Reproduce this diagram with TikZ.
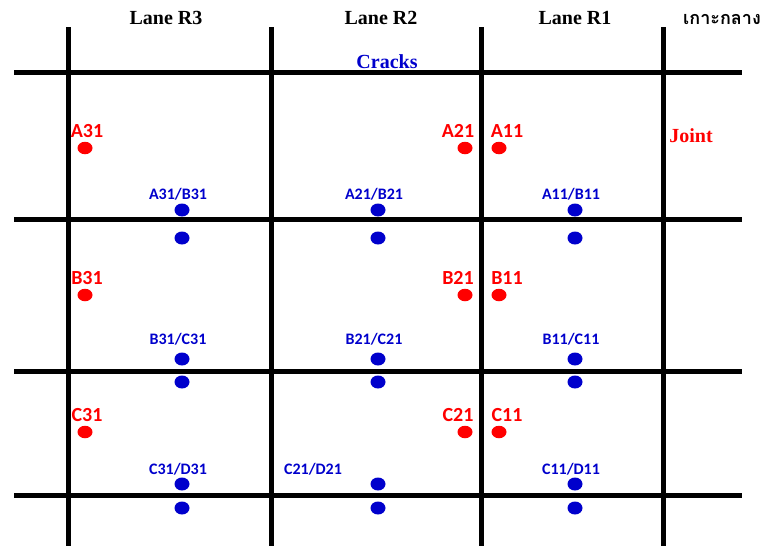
\documentclass[tikz,border=0pt]{standalone}
\usepackage{fontspec}
\setmainfont{Liberation Serif}
\newfontfamily\ptfont{Carlito}
\newfontfamily\thaifont[Script=Thai]{Loma}
\usetikzlibrary{shapes.geometric}
\definecolor{crackblue}{RGB}{0,0,204}
\definecolor{ptred}{RGB}{255,0,0}

\begin{document}
\begin{tikzpicture}[x=1pt, y=-1pt,
    slab/.style={line width=5pt, black},
    head/.style={font=\fontsize{20}{22}\selectfont\bfseries},
    reddot/.style={ellipse, fill=ptred, inner sep=0pt, minimum width=15pt, minimum height=12.5pt},
    bluedot/.style={ellipse, fill=crackblue, inner sep=0pt, minimum width=15pt, minimum height=13pt},
    redlbl/.style={text=ptred, font=\ptfont\bfseries\fontsize{20}{21}\selectfont, inner sep=0pt},
    bluelbl/.style={text=crackblue, font=\ptfont\bfseries\fontsize{16}{17}\selectfont, inner sep=0pt}]
  \useasboundingbox (0,0) rectangle (771,546);
  % LANE GRID
  \foreach \y in {72,219,371,495}
    \draw[slab] (14,\y) -- (742,\y);
  \foreach \x in {68,271,481,663}
    \draw[slab] (\x,27) -- (\x,546);
  % HEADERS
  \node[head] (laneR3) at (166,18) {Lane R3};
  \node[head] (laneR2) at (381,18) {Lane R2};
  \node[head] (laneR1) at (575,18) {Lane R1};
  \node[anchor=west, inner sep=0pt, font=\thaifont\bfseries\fontsize{18}{20}\selectfont] (island) at (683,19) {เกาะกลาง};
  \node[head, text=crackblue] (cracks) at (387,62) {Cracks};
  \node[head, text=ptred] (joint) at (691,136) {Joint};
  % JOINT POINTS (red)
  \foreach \r/\y in {A/148,B/295,C/432} {
    \node[reddot] (\r31) at (85,\y) {};
    \node[reddot] (\r21) at (465,\y) {};
    \node[reddot] (\r11) at (499,\y) {};
    \node[redlbl] (\r31lbl) at (87,\y-17) {\r31};
    \node[redlbl] (\r21lbl) at (458,\y-17) {\r21};
    \node[redlbl] (\r11lbl) at (507,\y-17) {\r11};
  }
  % CRACK POINTS (blue)
  \foreach \r/\yu/\yd in {A/210/238,B/359/382,C/484/508} {
    \foreach \c/\x in {3/182,2/378,1/575} {
      \node[bluedot] (\r\c1up) at (\x,\yu) {};
      \node[bluedot] (\r\c1dn) at (\x,\yd) {};
    }
  }
  \node[bluelbl] (AB31) at (178,194) {A31/B31};
  \node[bluelbl] (AB21) at (374,194) {A21/B21};
  \node[bluelbl] (AB11) at (571,194) {A11/B11};
  \node[bluelbl] (BC31) at (178,339) {B31/C31};
  \node[bluelbl] (BC21) at (374,339) {B21/C21};
  \node[bluelbl] (BC11) at (571,339) {B11/C11};
  \node[bluelbl] (CD31) at (178,469) {C31/D31};
  \node[bluelbl] (CD21) at (313,469) {C21/D21};
  \node[bluelbl] (CD11) at (571,469) {C11/D11};
\end{tikzpicture}
\end{document}
